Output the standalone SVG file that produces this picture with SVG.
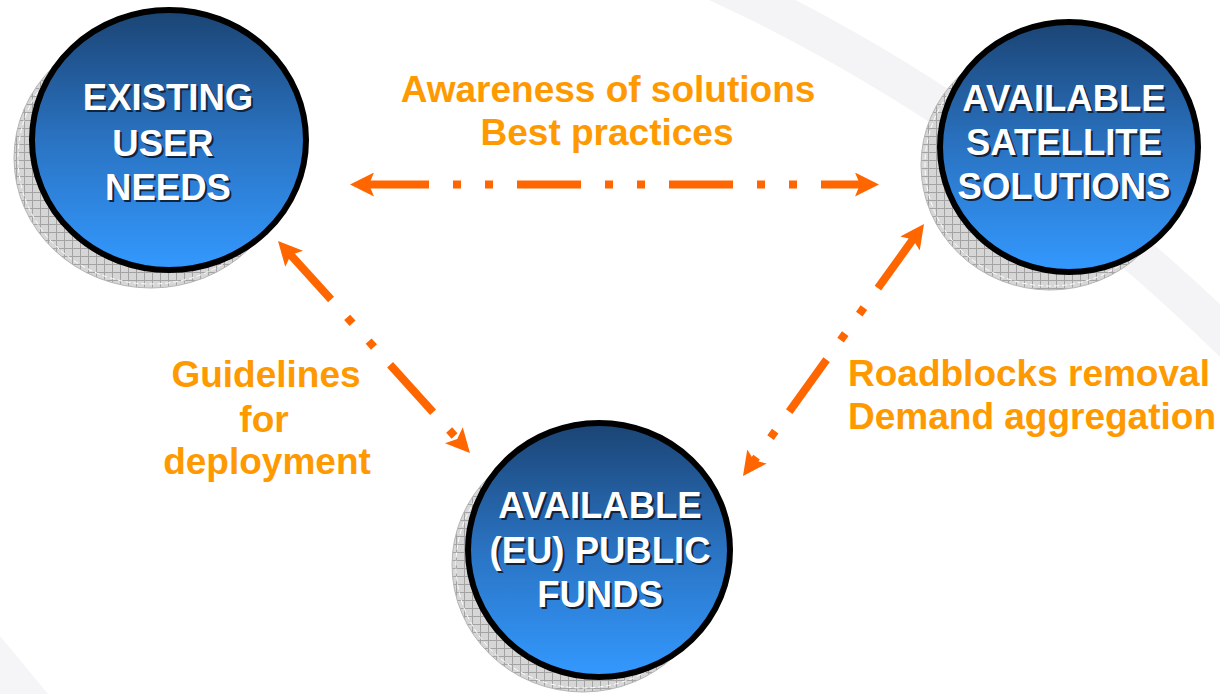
<svg xmlns="http://www.w3.org/2000/svg" width="1220" height="694" viewBox="0 0 1220 694">
  <style>
    .ring { stroke: #000; stroke-width: 6; fill: url(#blue); }
    .shadow { fill: url(#grid); stroke: #b5b5b5; stroke-width: 1; }
    .shadowin { fill: none; stroke: #fff; stroke-width: 1; stroke-dasharray: 5 3; }
    .nt { font-family: "Liberation Sans", Arial, sans-serif; font-weight: bold; font-size: 36.5px; text-anchor: middle; fill: #fff; }
    .ns { font-family: "Liberation Sans", Arial, sans-serif; font-weight: bold; font-size: 36.5px; text-anchor: middle; fill: #10243d; }
    .lbl { font-family: "Liberation Sans", Arial, sans-serif; font-weight: bold; font-size: 37px; fill: #ff9900; }
    .conn { stroke: #ff6600; stroke-width: 8; fill: none; stroke-dasharray: 64 24 8 24 8 24; stroke-linecap: butt; marker-start: url(#ah); marker-end: url(#ah); }
  </style>
  <defs>
    <linearGradient id="blue" x1="0" y1="0" x2="0" y2="1">
      <stop offset="0" stop-color="#1b4474"/>
      <stop offset="0.5" stop-color="#2a73c2"/>
      <stop offset="1" stop-color="#3399ff"/>
    </linearGradient>
    <pattern id="grid" width="8" height="8" patternUnits="userSpaceOnUse">
      <rect width="8" height="8" fill="#d6d6d6"/>
      <path d="M0,0.5 H8 M0.5,0 V8" stroke="#a3a3a3" stroke-width="1"/>
    </pattern>
    <marker id="ah" markerUnits="userSpaceOnUse" viewBox="0 0 24 24" markerWidth="24" markerHeight="24" refX="9" refY="12" orient="auto-start-reverse">
      <path d="M24,12 L0,0 L5,12 L0,24 Z" fill="#ff6600"/>
    </marker>
  </defs>

  <rect width="1220" height="694" fill="#ffffff"/>
  <path d="M700,-25 Q990,105 1235,345" fill="none" stroke="#f4f4f6" stroke-width="38"/>
  <polygon points="0,636 48,694 0,694" fill="#f5f5f7"/>

  <g id="node-existing-user-needs">
    <ellipse class="shadow" cx="151" cy="158" rx="137" ry="130"/>
    <ellipse class="shadowin" cx="151" cy="158" rx="133" ry="126"/>
    <ellipse class="ring" cx="169" cy="140" rx="137" ry="130"/>
    <text class="ns" x="170" y="112">EXISTING</text>
    <text class="ns" x="165" y="158">USER</text>
    <text class="ns" x="170" y="202">NEEDS</text>
    <text class="nt" x="168" y="110">EXISTING</text>
    <text class="nt" x="163" y="156">USER</text>
    <text class="nt" x="168" y="200">NEEDS</text>
  </g>

  <g id="node-available-satellite-solutions">
    <ellipse class="shadow" cx="1050" cy="165" rx="129" ry="125"/>
    <ellipse class="shadowin" cx="1050" cy="165" rx="125" ry="121"/>
    <ellipse class="ring" cx="1069" cy="147" rx="129" ry="125"/>
    <text class="ns" x="1066" y="113">AVAILABLE</text>
    <text class="ns" x="1066" y="157">SATELLITE</text>
    <text class="ns" x="1066" y="201">SOLUTIONS</text>
    <text class="nt" x="1064" y="111">AVAILABLE</text>
    <text class="nt" x="1064" y="155">SATELLITE</text>
    <text class="nt" x="1064" y="199">SOLUTIONS</text>
  </g>

  <g id="node-available-eu-public-funds">
    <ellipse class="shadow" cx="583" cy="565" rx="131" ry="127"/>
    <ellipse class="shadowin" cx="583" cy="565" rx="127" ry="123"/>
    <ellipse class="ring" cx="599" cy="550" rx="131" ry="127"/>
    <text class="ns" x="602" y="520">AVAILABLE</text>
    <text class="ns" x="602" y="565">(EU) PUBLIC</text>
    <text class="ns" x="602" y="609">FUNDS</text>
    <text class="nt" x="600" y="518">AVAILABLE</text>
    <text class="nt" x="600" y="563">(EU) PUBLIC</text>
    <text class="nt" x="600" y="607">FUNDS</text>
  </g>

  <g id="connectors">
    <line class="conn" x1="365" y1="184.5" x2="864" y2="184.5"/>
    <line class="conn" x1="288.1" y1="252.1" x2="459.9" y2="441.9"/>
    <line class="conn" x1="915.25" y1="236.2" x2="751.75" y2="463.8"/>
  </g>

  <g id="labels">
    <text class="lbl" x="608" y="102" text-anchor="middle">Awareness of solutions</text>
    <text class="lbl" x="607" y="145" text-anchor="middle">Best practices</text>
    <text class="lbl" x="266" y="387" text-anchor="middle">Guidelines</text>
    <text class="lbl" x="264" y="432" text-anchor="middle">for</text>
    <text class="lbl" x="267" y="474" text-anchor="middle">deployment</text>
    <text class="lbl" x="848" y="386">Roadblocks removal</text>
    <text class="lbl" x="848" y="429">Demand aggregation</text>
  </g>
</svg>
